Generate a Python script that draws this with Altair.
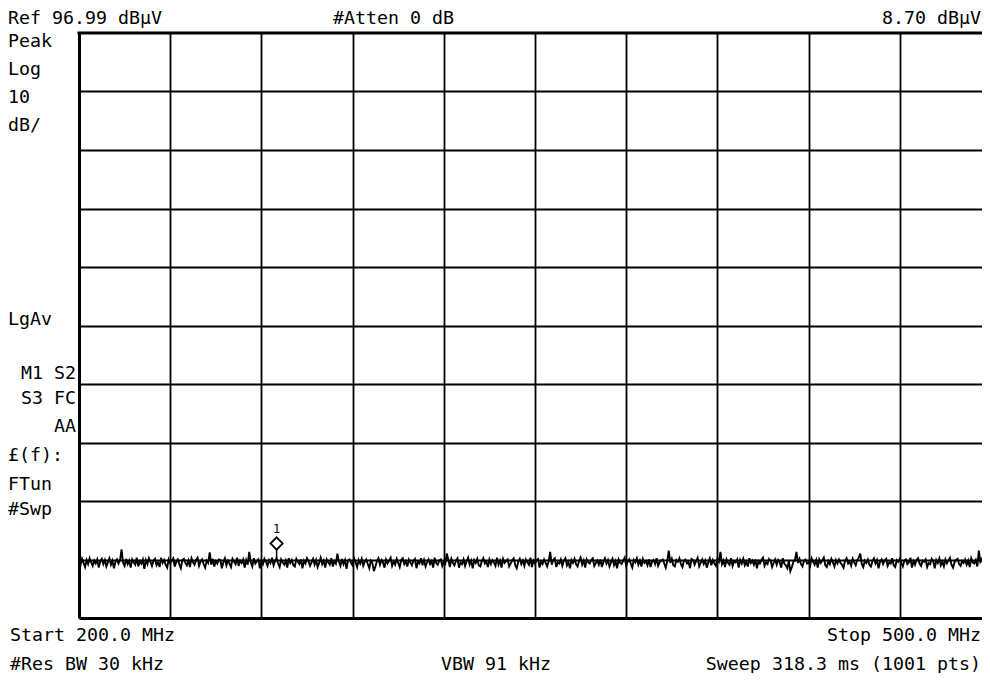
import altair as alt
import pandas as pd

# ---- data ----
start_mhz = 200.0
stop_mhz = 500.0
ref_level = 96.99          # dBµV, top of screen
db_per_div = 10.0
n_div = 10

trace_dbuv = [
    6.6, 6.0, 7.1, 6.4, 5.7, 6.9, 6.2, 7.2, 6.5, 5.9, 6.8, 6.3, 7.0, 5.6, 6.7, 7.1, 6.2, 6.9, 5.8, 6.5,
    7.2, 6.1, 6.8, 5.5, 6.6, 7.0, 6.3, 6.9, 8.7, 6.4, 5.9, 7.1, 6.2, 6.8, 5.6, 7.0, 6.5, 6.1, 7.3, 5.8,
    6.7, 6.3, 7.0, 5.4, 6.9, 6.2, 7.2, 6.6, 5.9, 6.8, 7.1, 6.0, 6.5, 5.7, 7.3, 6.4, 6.9, 6.1, 5.6, 7.0,
    6.3, 6.8, 7.2, 5.8, 6.6, 7.0, 6.2, 5.5, 6.9, 7.1, 6.4, 6.0, 6.8, 5.7, 7.2, 6.5, 6.1, 6.9, 7.3, 5.9,
    6.6, 7.0, 6.2, 5.6, 6.8, 6.4, 8.2, 6.1, 7.1, 5.8, 6.7, 6.3, 7.0, 6.9, 5.5, 6.5, 7.2, 6.0, 6.8, 6.3,
    5.7, 7.1, 6.6, 6.2, 7.3, 5.9, 6.8, 6.4, 7.0, 5.6, 6.9, 6.1, 8.3, 6.5, 5.8, 7.2, 6.3, 6.7, 7.0, 5.5,
    6.8, 6.2, 7.1, 6.6, 5.9, 6.9, 6.4, 7.3, 6.0, 6.7, 7.2, 6.3, 5.7, 7.0, 6.5, 6.1, 6.8, 5.6, 7.2, 6.4,
    6.9, 6.0, 5.8, 7.1, 6.6, 6.2, 7.0, 5.5, 6.8, 6.3, 7.2, 6.7, 5.9, 6.5, 7.1, 6.1, 6.9, 5.7, 6.4, 7.3,
    6.2, 6.8, 5.6, 7.0, 6.5, 6.1, 7.2, 5.8, 6.7, 6.3, 8.0, 6.6, 5.9, 7.1, 6.2, 6.9, 5.4, 6.8, 7.0, 6.4,
    6.0, 7.2, 6.5, 5.7, 6.9, 6.3, 7.1, 5.9, 6.6, 7.0, 6.2, 5.5, 6.8, 6.4, 5.0, 5.8, 6.7, 7.2, 6.1, 6.9,
    6.5, 5.6, 7.0, 6.3, 6.8, 7.3, 5.9, 6.6, 6.1, 7.1, 6.4, 5.7, 6.9, 7.2, 6.2, 6.7, 5.8, 7.0, 6.5, 6.0,
    6.8, 7.1, 5.5, 6.6, 6.3, 7.2, 6.0, 6.9, 5.8, 6.5, 7.0, 6.2, 6.7, 5.6, 7.3, 6.4, 6.1, 6.8, 7.0, 5.9,
    6.6, 6.3, 8.0, 6.9, 5.7, 7.1, 6.4, 6.0, 6.8, 7.2, 5.6, 6.5, 6.2, 7.0, 5.9, 6.7, 7.3, 6.1, 6.8, 5.5,
    6.9, 6.4, 7.1, 6.0, 5.8, 6.7, 7.2, 6.3, 6.6, 5.7, 7.0, 6.2, 6.9, 6.5, 5.9, 7.3, 6.1, 6.8, 5.6, 7.1,
    6.4, 6.7, 7.0, 5.8, 6.3, 6.9, 7.2, 6.0, 5.5, 6.6, 7.1, 6.2, 6.8, 5.9, 7.0, 6.5, 6.1, 7.3, 5.7, 6.8,
    6.3, 6.9, 7.1, 5.6, 6.6, 6.2, 7.0, 6.4, 5.8, 6.7, 8.3, 6.1, 6.9, 7.2, 5.7, 6.5, 6.3, 7.0, 5.9, 6.8,
    7.2, 6.0, 6.6, 5.5, 6.9, 6.4, 7.1, 6.2, 5.8, 6.7, 7.3, 6.1, 6.8, 5.6, 7.0, 6.5, 6.3, 6.9, 7.2, 5.9,
    6.4, 6.8, 6.1, 7.0, 5.7, 6.6, 7.2, 6.3, 6.9, 5.8, 6.5, 7.1, 6.0, 6.7, 5.5, 7.0, 6.4, 6.2, 6.8, 7.3,
    5.9, 6.6, 7.0, 6.3, 5.6, 6.9, 6.5, 7.2, 6.1, 6.8, 5.8, 7.1, 6.4, 6.7, 6.0, 7.0, 5.7, 6.6, 6.9, 6.2,
    7.2, 5.9, 6.5, 6.8, 7.0, 6.3, 5.6, 6.7, 8.5, 6.4, 7.1, 6.0, 5.8, 6.9, 6.6, 7.2, 6.2, 5.7, 6.8, 7.0,
    6.3, 6.6, 5.5, 7.1, 6.9, 6.1, 6.7, 7.3, 5.8, 6.4, 7.0, 6.2, 6.8, 5.6, 6.5, 7.2, 6.0, 6.9, 6.3, 5.9,
    7.1, 6.6, 8.3, 6.2, 6.8, 5.7, 7.0, 6.4, 6.1, 7.2, 5.9, 6.7, 6.5, 7.0, 5.6, 6.9, 6.3, 7.1, 6.0, 6.6,
    5.8, 7.2, 6.4, 6.8, 6.1, 7.0, 5.5, 6.7, 6.3, 6.9, 7.3, 5.9, 6.5, 6.2, 7.1, 6.8, 5.7, 6.4, 7.0, 6.1,
    6.9, 6.5, 5.6, 7.2, 6.3, 6.0, 5.5, 6.7, 5.0, 5.7, 6.6, 6.9, 8.3, 6.4, 7.1, 6.2, 5.8, 6.8, 7.0, 6.3,
    6.5, 5.9, 7.2, 6.6, 6.1, 6.9, 5.6, 7.0, 6.4, 6.8, 7.3, 6.0, 5.7, 6.7, 6.2, 7.1, 6.5, 5.8, 6.9, 6.3,
    7.0, 6.4, 6.1, 5.6, 6.8, 7.2, 6.3, 6.6, 5.9, 7.1, 6.5, 6.0, 6.9, 7.3, 8.0, 6.2, 5.7, 6.8, 6.4, 7.0,
    6.1, 5.8, 6.7, 7.2, 6.3, 6.9, 5.5, 6.6, 7.0, 6.2, 6.8, 7.1, 5.9, 6.5, 6.3, 7.2, 6.0, 5.7, 6.9, 6.6,
    7.1, 6.4, 5.8, 6.8, 7.0, 6.2, 6.5, 7.3, 5.6, 6.7, 6.1, 6.9, 7.2, 6.3, 5.9, 6.8, 6.6, 7.0, 5.7, 6.4,
    6.2, 7.1, 6.7, 5.5, 6.9, 6.4, 7.2, 6.0, 6.6, 5.8, 7.0, 6.3, 6.8, 7.3, 6.1, 5.6, 6.5, 6.9, 7.1, 6.2,
    5.9, 6.7, 6.4, 7.0, 6.1, 6.8, 5.7, 7.2, 6.5, 6.3, 6.9, 5.8, 8.5, 6.6, 7.1, 6.0, 5.6, 6.8, 6.4, 7.0,
    6.6,
]

marker_freq = [265.0]
marker_level = [8.70]
marker_trace = [7.2]
marker_label = ["1"]

header_left = ["Ref 96.99 dBµV", "#Atten 0 dB"]
header_right = ["8.70 dBµV"]
side_left = ["Peak", "Log", "10", "dB/", "LgAv", "£(f):", "FTun", "#Swp"]
side_right = ["M1  S2", "S3  FC", "AA"]
footer_left = ["Start 200.0 MHz", "#Res BW 30 kHz", "VBW 91 kHz"]
footer_right = ["Stop 500.0 MHz", "Sweep 318.3 ms (1001 pts)"]

# ---- layout (pixels) ----
W, H = 903, 585
PLOT_X0, PLOT_Y0 = 79, 33
FULL_W = 912.0
FONT = "DejaVu Sans Mono"
FS = 18.3
RX = PLOT_X0 + W - 1   # right edge for right-aligned text
HEAD_Y = 24

n = len(trace_dbuv)
step = (stop_mhz - start_mhz) / (n - 1)
df = pd.DataFrame({"freq": [start_mhz + i * step for i in range(n)], "level": trace_dbuv})
mk = pd.DataFrame({"freq": marker_freq, "level": marker_level, "trace": marker_trace, "label": marker_label})

bottom = ref_level - db_per_div * n_div
x_dom = [start_mhz, start_mhz + (stop_mhz - start_mhz) * W / FULL_W]
x_grid = [start_mhz + (stop_mhz - start_mhz) * k / n_div for k in range(1, n_div)]
y_grid = [bottom + db_per_div * k for k in range(1, n_div)]

xs = alt.Scale(domain=x_dom, nice=False, zero=False)
ys = alt.Scale(domain=[bottom, ref_level], nice=False, zero=False)

x_axis = alt.Axis(values=x_grid, labels=False, ticks=False, title=None, grid=True,
                  gridColor="black", gridWidth=1.8, gridOpacity=1,
                  domain=True, domainColor="black", domainWidth=3)
y_axis = alt.Axis(values=y_grid, labels=False, ticks=False, title=None, grid=True,
                  gridColor="black", gridWidth=1.8, gridOpacity=1,
                  domain=True, domainColor="black", domainWidth=3)

trace = alt.Chart(df).mark_line(color="black", strokeWidth=1.9, clip=True).encode(
    x=alt.X("freq:Q", scale=xs, axis=x_axis),
    y=alt.Y("level:Q", scale=ys, axis=y_axis),
)

stem = alt.Chart(mk).mark_rule(color="black", strokeWidth=1.5).encode(
    x=alt.X("freq:Q", scale=xs), y=alt.Y("level:Q", scale=ys), y2="trace:Q")
diamond = alt.Chart(mk).mark_point(shape="diamond", size=150, filled=True, fill="white",
                                   stroke="black", strokeWidth=1.8, opacity=1, yOffset=-6).encode(
    x=alt.X("freq:Q", scale=xs), y=alt.Y("level:Q", scale=ys))
mlabel = alt.Chart(mk).mark_text(font=FONT, fontSize=12, fill="black", yOffset=-16,
                                 baseline="alphabetic", align="center").encode(
    x=alt.X("freq:Q", scale=xs), y=alt.Y("level:Q", scale=ys), text="label:N")

top_border = alt.Chart(alt.Data(values=[{}])).mark_rule(color="black", strokeWidth=3).encode(
    x=alt.value(-1.5), x2=alt.value(W), y=alt.value(0))


def label(text, px, py, align):
    return alt.Chart(alt.Data(values=[{}])).mark_text(
        font=FONT, fontSize=FS, color="black", align=align, baseline="alphabetic"
    ).encode(x=alt.value(px - PLOT_X0), y=alt.value(py - PLOT_Y0), text=alt.value(text))


texts = []
for t, (px, py) in zip(header_left, [(8, HEAD_Y), (333, HEAD_Y)]):
    texts.append(label(t, px, py, "left"))
for t, (px, py) in zip(header_right, [(RX, HEAD_Y)]):
    texts.append(label(t, px, py, "right"))
for t, (px, py) in zip(side_left, [(8, 47), (8, 75), (8, 103), (8, 131), (8, 325),
                                   (8, 461), (8, 490), (8, 515)]):
    texts.append(label(t, px, py, "left"))
for t, (px, py) in zip(side_right, [(76, 379), (76, 404), (76, 432)]):
    texts.append(label(t, px, py, "right"))
for t, (px, py) in zip(footer_left, [(10, 641), (10, 670), (441, 670)]):
    texts.append(label(t, px, py, "left"))
for t, (px, py) in zip(footer_right, [(RX, 641), (RX, 670)]):
    texts.append(label(t, px, py, "right"))

chart = alt.layer(trace, stem, diamond, mlabel, top_border, *texts).properties(
    width=W, height=H,
    autosize=alt.AutoSizeParams(type="none"),
    padding={"left": PLOT_X0 - 8, "top": PLOT_Y0 - 8, "right": 0,
             "bottom": 665 - (PLOT_Y0 - 8) - H},
    background="white",
).configure_view(stroke=None)

chart.save("out.html", embed_options={"renderer": "svg", "actions": False})
